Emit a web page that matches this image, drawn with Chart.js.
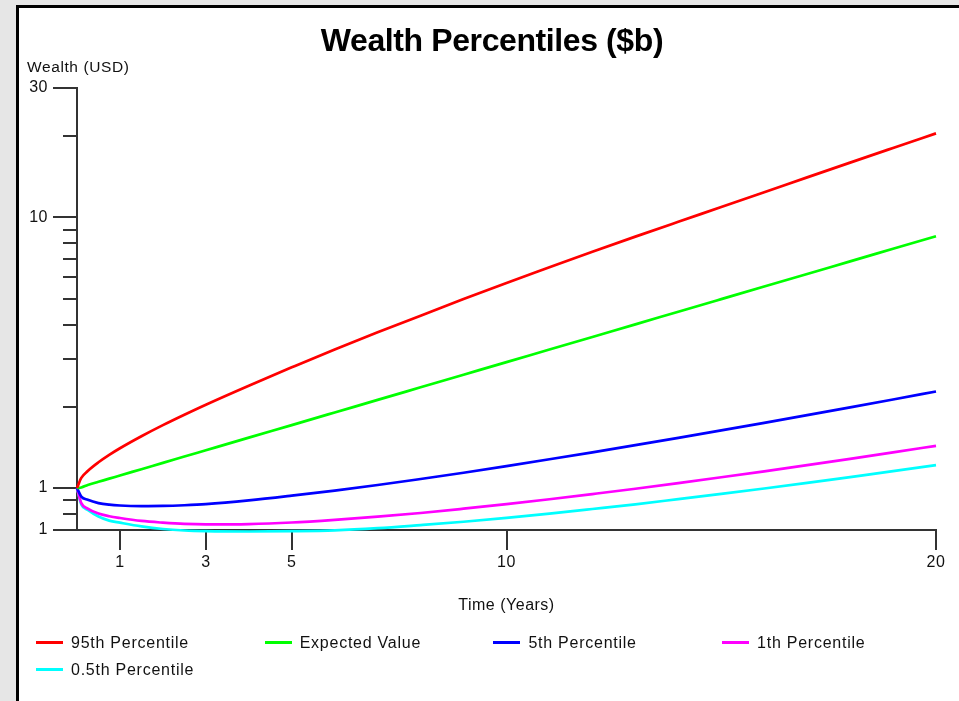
<!DOCTYPE html>
<html>
<head>
<meta charset="utf-8">
<script src="https://cdn.jsdelivr.net/npm/chart.js@4/dist/chart.umd.min.js"></script>
<style>
html,body{margin:0;padding:0;width:959px;height:701px;overflow:hidden;background:#e6e6e6;font-family:"Liberation Sans",Arial,sans-serif;}
#panel{position:absolute;left:16px;top:5px;width:960px;height:720px;border-left:3px solid #000;border-top:3px solid #000;background:#fff;}
#wrap{position:absolute;left:19px;top:8px;width:940px;height:693px;}
#title{position:absolute;left:22px;width:940px;top:21px;text-align:center;font-weight:bold;font-size:32px;line-height:38px;letter-spacing:-0.4px;color:#000;}
#ytitle{position:absolute;left:27px;top:58px;font-size:15.5px;line-height:18px;letter-spacing:0.6px;color:#111;}
.leg{position:absolute;height:20px;font-size:16px;line-height:20px;letter-spacing:0.75px;color:#111;white-space:nowrap;padding-left:35px;}
.leg .ln{position:absolute;left:0;top:8px;width:27px;height:3px;}
</style>
</head>
<body>
<div id="panel"></div>
<div id="wrap"><canvas id="c"></canvas></div>
<div id="title">Wealth Percentiles ($b)</div>
<div id="ytitle">Wealth (USD)</div>
<div id="legend"></div>
<script>
// ---- data ----
const years = [0,0.1,0.25,0.5,0.75,1,1.5,2,2.5,3,4,5,6,7,8,9,10,11,12,13,14,15,16,17,18,19,20];
const p95      = [1,1.09,1.156,1.245,1.326,1.403,1.554,1.708,1.866,2.032,2.388,2.79,3.25,3.76,4.33,4.99,5.72,6.53,7.45,8.48,9.62,10.9,12.36,14.03,15.91,18.02,20.4];
const expected = [1,1.005,1.027,1.055,1.083,1.113,1.174,1.239,1.307,1.379,1.535,1.708,1.901,2.116,2.355,2.621,2.917,3.247,3.614,4.022,4.477,4.983,5.546,6.172,6.87,7.646,8.51];
const p5       = [1,0.93,0.905,0.88,0.868,0.862,0.858,0.859,0.864,0.872,0.9,0.937,0.979,1.026,1.08,1.139,1.205,1.277,1.355,1.44,1.532,1.632,1.741,1.859,1.986,2.123,2.272];
const p1       = [1,0.88,0.84,0.805,0.787,0.775,0.756,0.745,0.737,0.734,0.736,0.746,0.763,0.784,0.809,0.839,0.872,0.909,0.95,0.994,1.043,1.096,1.153,1.215,1.282,1.354,1.432];
const p05      = [1,0.87,0.83,0.785,0.758,0.745,0.722,0.706,0.697,0.693,0.691,0.693,0.698,0.711,0.73,0.751,0.776,0.805,0.837,0.871,0.91,0.951,0.996,1.045,1.098,1.154,1.216];

const seriesNames  = ['95th Percentile','Expected Value','5th Percentile','1th Percentile','0.5th Percentile'];
const seriesColors = ['#ff0000','#00ff00','#0000ff','#ff00ff','#00ffff'];
const seriesValues = [p95, expected, p5, p1, p05];

const xTickValues = [1,3,5,10,20];
const yTickValues = [0.7,0.8,0.9,1,2,3,4,5,6,7,8,9,10,20,30];
const yLabelValues = [0.7,1,10,30];
const yLabelTexts  = ['1','1','10','30'];

// ---- legend (HTML, real text) ----
const leg = document.getElementById('legend');
seriesNames.forEach((name,i)=>{
  const d = document.createElement('div');
  d.className = 'leg';
  d.style.left = (36 + (i%4)*228.7) + 'px';
  d.style.top  = (633 + Math.floor(i/4)*27) + 'px';
  const ln = document.createElement('span');
  ln.className = 'ln';
  ln.style.background = seriesColors[i];
  d.appendChild(ln);
  d.appendChild(document.createTextNode(name));
  leg.appendChild(d);
});

const AXIS = '#333';
const spacing = {
  id:'spacing',
  beforeDraw(chart){ chart.ctx.letterSpacing = '0.5px'; }
};
const minorTicks = {
  id:'minorTicks',
  afterDraw(chart){
    const y = chart.scales.y, ctx = chart.ctx;
    ctx.save();
    ctx.strokeStyle = AXIS; ctx.lineWidth = 2;
    yTickValues.forEach(v=>{
      if (yLabelValues.includes(v)) return;
      const py = Math.round(y.getPixelForValue(v));
      ctx.beginPath(); ctx.moveTo(y.right-14, py); ctx.lineTo(y.right, py); ctx.stroke();
    });
    ctx.restore();
  }
};

new Chart(document.getElementById('c'), {
  type:'line',
  data:{
    datasets: seriesNames.map((name,i)=>({
      label:name,
      data: years.map((t,k)=>({x:t, y:seriesValues[i][k]})),
      borderColor: seriesColors[i],
      backgroundColor: seriesColors[i],
      borderWidth: 2.7,
      pointRadius: 0,
      cubicInterpolationMode:'monotone',
      fill:false,
      clip: 6
    }))
  },
  options:{
    responsive:true,
    maintainAspectRatio:false,
    animation:false,
    layout:{padding:{left:0, top:80, right:23, bottom:82}},
    plugins:{legend:{display:false}, title:{display:false}, tooltip:{enabled:false}},
    scales:{
      x:{
        type:'linear', min:0, max:20,
        afterBuildTicks(s){ s.ticks = xTickValues.map(v=>({value:v})); },
        afterFit(s){ s.height = 89; },
        ticks:{autoSkip:false, maxRotation:0, padding:3, color:'#111', font:{family:'Liberation Sans', size:16}, callback:v=>String(v)},
        grid:{drawOnChartArea:false, drawTicks:true, tickLength:20, lineWidth:2, tickColor:AXIS},
        border:{display:true, color:AXIS, width:2},
        title:{display:true, text:'Time (Years)', color:'#111', font:{family:'Liberation Sans', size:16}, padding:{top:4,bottom:4}}
      },
      y:{
        type:'logarithmic', min:0.7, max:30,
        afterBuildTicks(s){ s.ticks = yTickValues.map(v=>({value:v})); },
        afterFit(s){ s.width = 58; },
        ticks:{autoSkip:false, padding:5, color:'#111', font:{family:'Liberation Sans', size:16},
          callback(v){ const i = yLabelValues.indexOf(v); return i<0 ? '' : yLabelTexts[i]; }},
        grid:{drawOnChartArea:false, drawTicks:true, tickLength:24, lineWidth:2,
          tickColor: c => (c.tick && yLabelValues.includes(c.tick.value)) ? AXIS : 'rgba(0,0,0,0)'},
        border:{display:true, color:AXIS, width:2}
      }
    }
  },
  plugins:[spacing, minorTicks]
});
</script>
</body>
</html>
